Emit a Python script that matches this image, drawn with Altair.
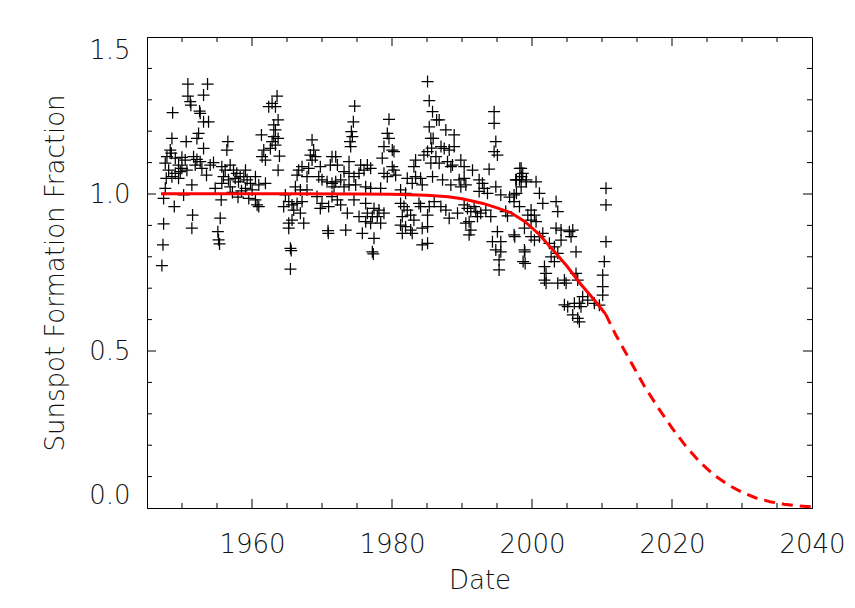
import altair as alt
import pandas as pd

# Observed sunspot formation fraction (decimal year, value)
dates = [
    1950.84, 1953.65, 1953.08, 1950.84, 1951.18, 1951.27, 1948.66, 1952.51, 1952.60, 1953.08,
    1953.79, 1952.37, 1952.13, 1948.56, 1956.55, 1956.41, 1950.60, 1948.32, 1948.47, 1953.08,
    1947.85, 1949.04, 1949.99, 1950.46, 1951.65, 1952.13, 1952.60, 1947.61, 1949.51, 1949.99,
    1951.89, 1952.84, 1954.03, 1948.09, 1949.04, 1949.75, 1950.70, 1948.56, 1949.51, 1947.75,
    1951.41, 1955.69, 1956.17, 1956.88, 1957.36, 1957.83, 1958.31, 1955.93, 1956.64, 1957.60,
    1958.07, 1955.69, 1947.61, 1954.74, 1956.88, 1947.37, 1950.23, 1955.60, 1948.90, 1951.51,
    1955.46, 1947.37, 1951.41, 1955.12, 1955.22, 1955.36, 1947.28, 1947.13, 1954.50, 1953.50,
    1957.20, 1958.00, 1958.50,
    # 1958.6 - 1971.7
    1963.58, 1962.87, 1963.35, 1962.39, 1963.73, 1963.11, 1963.35, 1961.35, 1963.11, 1963.73,
    1962.87, 1963.35, 1961.68, 1962.63, 1961.44, 1963.92, 1961.92, 1963.73, 1968.58, 1968.81,
    1968.34, 1969.05, 1968.58, 1969.76, 1971.43, 1971.19, 1967.15, 1966.67, 1968.10, 1966.44,
    1967.86, 1969.53, 1970.00, 1970.72, 1971.43, 1959.07, 1958.83, 1959.30, 1960.49, 1959.78,
    1960.97, 1961.92, 1959.07, 1960.02, 1959.54, 1960.49, 1960.73, 1960.97, 1966.20, 1966.91,
    1967.86, 1964.77, 1965.25, 1965.72, 1966.44, 1967.15, 1964.53, 1965.96, 1966.91, 1965.72,
    1965.25, 1967.39, 1965.25, 1965.49, 1965.60, 1965.49, 1970.00, 1969.76, 1970.95, 1970.86,
    1970.90, 1969.29, 1971.43,
    # 1971.7 - 1984.8
    1974.67, 1974.48, 1974.19, 1974.34, 1974.00, 1974.10, 1979.57, 1979.33, 1979.57, 1978.85,
    1980.04, 1980.28, 1978.61, 1980.04, 1980.28, 1980.52, 1978.85, 1979.33, 1983.37, 1983.13,
    1984.56, 1971.96, 1972.20, 1973.86, 1975.52, 1976.48, 1976.95, 1976.00, 1973.15, 1973.86,
    1975.29, 1974.57, 1972.67, 1971.96, 1973.86, 1974.81, 1971.72, 1973.15, 1976.24, 1976.95,
    1978.38, 1982.18, 1983.37, 1984.08, 1982.89, 1984.32, 1981.23, 1981.94, 1972.20, 1972.67,
    1974.57, 1976.24, 1973.62, 1975.29, 1976.48, 1977.43, 1978.14, 1977.19, 1977.90, 1978.85,
    1976.24, 1976.95, 1978.38, 1975.76, 1977.43, 1973.39, 1977.19, 1977.33, 1981.23, 1981.71,
    1982.18, 1981.47, 1982.66, 1983.13, 1981.23, 1981.94, 1982.66, 1981.47, 1982.89, 1983.85,
    1984.08, 1984.32, 1984.32,
    # 1984.8 - 1998
    1985.08, 1985.32, 1985.79, 1986.74, 1985.32, 1985.55, 1987.69, 1988.88, 1985.08, 1987.00,
    1987.46, 1988.17, 1988.88, 1986.27, 1985.55, 1986.74, 1987.93, 1988.41, 1988.64, 1989.83,
    1990.31, 1991.50, 1985.79, 1987.22, 1988.41, 1989.60, 1990.31, 1989.83, 1990.55, 1992.45,
    1992.92, 1993.16, 1992.45, 1993.64, 1994.59, 1994.59, 1994.83, 1994.59, 1995.06, 1993.87,
    1994.83, 1995.54, 1985.32, 1986.03, 1986.98, 1987.69, 1988.17, 1989.36, 1990.31, 1990.78,
    1991.26, 1991.73, 1991.97, 1992.21, 1992.68, 1993.40, 1994.11, 1991.02, 1990.55, 1991.26,
    1991.02, 1995.06, 1994.35, 1995.54, 1994.83, 1995.54, 1995.30, 1995.30, 1996.25, 1997.44,
    1997.44, 1997.68, 1997.44, 1985.08, 1985.08, 1985.08, 1986.37, 1985.88, 1985.66,
    1998.26, 1998.49, 1997.78, 1999.20, 1997.78, 1997.54, 1998.97, 1998.73, 1996.80, 1996.50,
    # 1998 - 2011
    1998.45, 1998.68, 1998.21, 1999.16, 2000.58, 1998.45, 2001.06, 2001.54, 2003.44, 2003.68,
    1999.87, 2000.35, 1999.40, 2000.58, 1999.87, 1998.21, 1998.92, 1999.87, 2001.06, 2000.35,
    2001.54, 2003.44, 2004.15, 2005.34, 2005.82, 2005.58, 2004.15, 2002.49, 2003.20, 1998.92,
    2003.68, 2002.73, 2006.29, 1999.02, 2003.20, 2001.78, 2002.01, 2002.01, 2001.78, 2003.68,
    2004.63, 2004.87, 2006.29, 2006.53, 2004.63, 2005.10, 2006.05, 2006.77, 2007.24, 2007.00,
    2005.82, 2006.53, 2006.77, 2007.96, 2008.91, 2010.57, 2010.57, 2010.57, 2010.33, 2010.10,
    2010.10, 2010.10, 2009.62,
]

fractions = [
    1.350, 1.350, 1.315, 1.312, 1.294, 1.283, 1.259, 1.264, 1.257, 1.230,
    1.230, 1.193, 1.177, 1.177, 1.167, 1.140, 1.167, 1.140, 1.130, 1.145,
    1.119, 1.114, 1.117, 1.108, 1.119, 1.110, 1.103, 1.098, 1.092, 1.082,
    1.092, 1.082, 1.092, 1.076, 1.066, 1.071, 1.076, 1.055, 1.050, 1.050,
    1.029, 1.087, 1.076, 1.092, 1.076, 1.066, 1.055, 1.055, 1.045, 1.050,
    1.039, 1.034, 1.018, 1.018, 1.023, 0.986, 0.997, 0.981, 0.960, 0.933,
    0.923, 0.905, 0.891, 0.880, 0.854, 0.841, 0.838, 0.772, 1.100, 1.060,
    1.005, 0.990, 1.010,
    1.312, 1.289, 1.278, 1.278, 1.236, 1.220, 1.204, 1.188, 1.183, 1.177,
    1.167, 1.156, 1.140, 1.145, 1.119, 1.121, 1.108, 1.076, 1.172, 1.140,
    1.124, 1.119, 1.108, 1.087, 1.119, 1.092, 1.087, 1.076, 1.082, 1.060,
    1.055, 1.055, 1.045, 1.039, 1.034, 1.076, 1.055, 1.045, 1.055, 1.034,
    1.029, 1.034, 1.018, 1.013, 0.986, 0.981, 0.965, 0.960, 1.023, 1.013,
    1.013, 0.997, 0.976, 0.965, 0.970, 0.976, 0.960, 0.949, 0.939, 0.917,
    0.907, 0.907, 0.891, 0.827, 0.820, 0.761, 0.970, 0.954, 0.960, 0.883,
    0.875, 0.992, 0.992,
    1.280, 1.230, 1.199, 1.183, 1.167, 1.151, 1.238, 1.193, 1.177, 1.151,
    1.140, 1.135, 1.114, 1.087, 1.076, 1.060, 1.066, 1.055, 1.108, 1.087,
    1.124, 1.119, 1.092, 1.103, 1.092, 1.092, 1.082, 1.076, 1.071, 1.066,
    1.066, 1.055, 1.045, 1.039, 1.029, 1.029, 1.023, 1.023, 1.023, 1.018,
    1.018, 1.050, 1.055, 1.050, 1.034, 1.029, 1.013, 1.002, 0.981, 0.965,
    0.981, 0.970, 0.939, 0.928, 0.939, 0.954, 0.949, 0.928, 0.928, 0.939,
    0.912, 0.907, 0.907, 0.875, 0.859, 0.885, 0.816, 0.809, 0.970, 0.960,
    0.949, 0.928, 0.933, 0.917, 0.901, 0.896, 0.885, 0.875, 0.875, 0.970,
    0.960, 0.891, 0.838,
    1.358, 1.297, 1.262, 1.236, 1.214, 1.177, 1.204, 1.188, 1.135, 1.151,
    1.145, 1.140, 1.151, 1.119, 1.098, 1.098, 1.103, 1.087, 1.092, 1.108,
    1.087, 1.076, 1.055, 1.045, 1.029, 1.045, 1.050, 1.023, 1.029, 1.045,
    1.034, 1.018, 1.008, 1.002, 1.262, 1.225, 1.167, 1.135, 1.124, 1.079,
    1.023, 0.997, 0.960, 0.976, 0.960, 0.949, 0.923, 0.939, 0.965, 0.954,
    0.944, 0.960, 0.944, 0.928, 0.939, 0.949, 0.928, 0.912, 0.907, 0.885,
    0.870, 0.880, 0.848, 0.848, 0.822, 0.816, 0.790, 0.758, 0.944, 0.976,
    0.997, 1.045, 0.870, 0.896, 0.843, 0.933, 1.236, 1.177, 1.146,
    1.082, 1.055, 1.045, 1.045, 1.002, 0.864, 0.816, 0.785, 0.990, 0.930,
    1.082, 1.066, 1.045, 1.039, 1.039, 1.023, 1.002, 0.970, 0.976, 0.944,
    0.949, 0.933, 0.933, 0.912, 0.917, 0.960, 0.891, 0.864, 0.864, 0.853,
    0.875, 0.891, 0.885, 0.880, 0.885, 0.864, 0.853, 0.843, 0.832, 0.822,
    0.811, 0.800, 0.816, 0.779, 0.785, 0.769, 0.747, 0.716, 0.726, 0.716,
    0.726, 0.716, 0.747, 0.726, 0.647, 0.641, 0.652, 0.652, 0.673, 0.641,
    0.615, 0.604, 0.593, 0.662, 0.652, 1.018, 0.965, 0.848, 0.785, 0.742,
    0.705, 0.678, 0.646,
]

# Fitted trend (solid over the data, dashed projection)
fit_years_solid = [1947, 1955, 1965, 1975, 1980, 1985, 1988, 1990, 1993, 1995,
                   1997, 1999, 2001, 2003, 2005, 2007, 2009, 2010.5]
fit_solid = [1.001, 1.001, 1.001, 1.0, 0.999, 0.996, 0.991, 0.985, 0.970, 0.956,
             0.940, 0.912, 0.872, 0.822, 0.770, 0.712, 0.660, 0.618]
fit_years_dashed = [2010.5, 2012, 2014, 2016, 2018, 2020, 2022, 2024, 2026, 2028,
                    2030, 2032, 2034, 2036, 2038, 2040]
fit_dashed = [0.618, 0.55, 0.47, 0.39, 0.32, 0.255, 0.196, 0.146, 0.105, 0.074,
              0.05, 0.032, 0.02, 0.012, 0.007, 0.004]

# Tick positions (IDL-style box with inward major / minor ticks)
x_major_ticks = [1960, 1980, 2000, 2020]
x_minor_ticks = [1950, 1955, 1965, 1970, 1975, 1985, 1990, 1995, 2005, 2010,
                 2015, 2025, 2030, 2035]
y_major_ticks = [0.5, 1.0]
y_minor_ticks = [0.1, 0.2, 0.3, 0.4, 0.6, 0.7, 0.8, 0.9, 1.1, 1.2, 1.3, 1.4]
x_label_values = [1960, 1980, 2000, 2020, 2040]
y_label_values = [0.0, 0.5, 1.0, 1.5]

W, H = 665, 471
MAJOR, MINOR = 9, 5

n = min(len(dates), len(fractions))
pts = pd.DataFrame({"date": dates[:n], "frac": fractions[:n]})
solid_df = pd.DataFrame({"date": fit_years_solid, "frac": fit_solid})
dash_df = pd.DataFrame({"date": fit_years_dashed, "frac": fit_dashed})

FONT = "DejaVu Sans"
xs = alt.Scale(domain=[1945, 2040], nice=False, zero=False)
ys = alt.Scale(domain=[0, 1.5], nice=False)

common = dict(domainColor="black", domainWidth=1, ticks=False, grid=False,
              labelFont=FONT, labelFontSize=26, labelFontWeight=200, labelColor="#111",
              titleFont=FONT, titleFontSize=26, titleFontWeight=200, titleColor="#111")

x_bottom = alt.Axis(values=x_label_values, orient="bottom", title="Date", format="d",
                    labelPadding=44, labelBaseline="alphabetic",
                    labelFlush=False, labelOverlap=False, labelBound=False,
                    titleX=W / 2, titleY=80, titleBaseline="alphabetic", titleAlign="center",
                    **common)
y_left = alt.Axis(values=y_label_values, orient="left", title="Sunspot Formation Fraction",
                  format=".1f", labelPadding=17, labelFlush=True, labelOverlap=False,
                  titleX=-92, titleY=H / 2, titleAngle=270, titleBaseline="middle",
                  titleAlign="center",
                  **common)

PLUS = "M-1,0L1,0M0,-1L0,1"

points = alt.Chart(pts).mark_point(
    shape=PLUS, size=144, filled=False, stroke="black", strokeWidth=1.25, opacity=1
).encode(
    x=alt.X("date:Q", scale=xs, axis=x_bottom),
    y=alt.Y("frac:Q", scale=ys, axis=y_left),
)

solid = alt.Chart(solid_df).mark_line(color="#ff0000", strokeWidth=3).encode(
    x=alt.X("date:Q", scale=xs, axis=None),
    y=alt.Y("frac:Q", scale=ys, axis=None),
)

dashed = alt.Chart(dash_df).mark_line(color="#ff0000", strokeWidth=3, strokeDash=[11, 7]).encode(
    x=alt.X("date:Q", scale=xs, axis=None),
    y=alt.Y("frac:Q", scale=ys, axis=None),
)


def xticks(values, length):
    df = pd.DataFrame({"t": values})
    base = alt.Chart(df).mark_rule(color="black", strokeWidth=1)
    bottom = base.encode(x=alt.X("t:Q", scale=xs, axis=None),
                         y=alt.value(H), y2=alt.value(H - length))
    top = base.encode(x=alt.X("t:Q", scale=xs, axis=None),
                      y=alt.value(0), y2=alt.value(length))
    return [bottom, top]


def yticks(values, length):
    df = pd.DataFrame({"t": values})
    base = alt.Chart(df).mark_rule(color="black", strokeWidth=1)
    left = base.encode(y=alt.Y("t:Q", scale=ys, axis=None),
                       x=alt.value(0), x2=alt.value(length))
    right = base.encode(y=alt.Y("t:Q", scale=ys, axis=None),
                        x=alt.value(W), x2=alt.value(W - length))
    return [left, right]


tick_layers = (xticks(x_major_ticks, MAJOR) + xticks(x_minor_ticks, MINOR)
               + yticks(y_major_ticks, MAJOR) + yticks(y_minor_ticks, MINOR))

chart = alt.layer(points, solid, dashed, *tick_layers).resolve_axis(
    x="independent", y="independent"
).properties(
    width=W, height=H,
    autosize=alt.AutoSizeParams(type="none"),
    padding={"left": 139, "top": 29, "right": 35, "bottom": 92},
).configure_view(stroke="black", strokeWidth=1)

chart.save("out.html", embed_options={"renderer": "svg", "actions": False})
